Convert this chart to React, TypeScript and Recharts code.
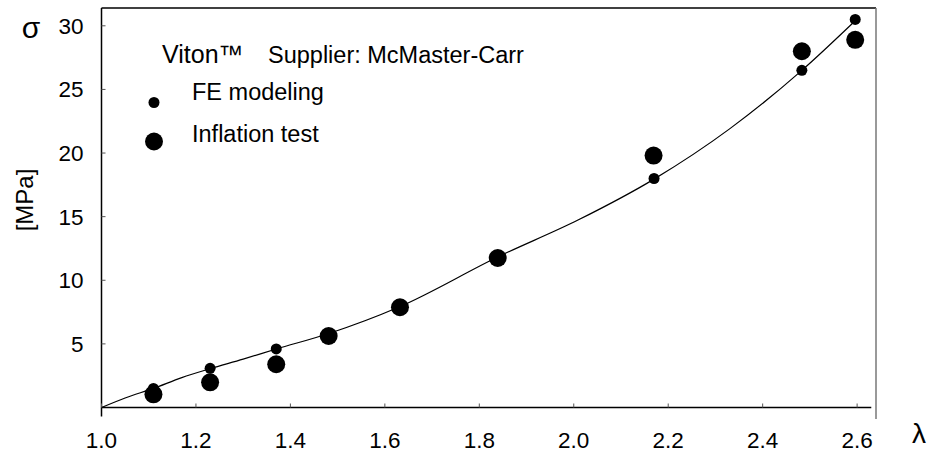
import React from "react";
import {
	ComposedChart,
	Line,
	ReferenceLine,
	Scatter,
	XAxis,
	YAxis,
} from "recharts";

// stretch ratio λ and stress σ [MPa]
const feLambda = [1.11, 1.23, 1.37, 1.48, 1.63, 1.84, 2.17, 2.483, 2.596];
const feSigma = [1.5, 3.08, 4.6, 5.75, 7.85, 11.8, 18.0, 26.5, 30.5];

const testLambda = [1.11, 1.23, 1.37, 1.481, 1.632, 1.839, 2.169, 2.483, 2.596];
const testSigma = [1.04, 1.98, 3.4, 5.62, 7.88, 11.75, 19.8, 28.0, 28.9];

const fitLambda = [1.0, 1.05, 1.11, 1.17, 1.23, 1.3, 1.37, 1.48, 1.63, 1.84, 2.01, 2.17, 2.33, 2.48, 2.596];
const fitSigma = [0, 0.75, 1.5, 2.35, 3.05, 3.8, 4.6, 5.8, 7.9, 11.85, 14.75, 17.95, 21.9, 26.4, 30.4];

const xTicks = [1.0, 1.2, 1.4, 1.6, 1.8, 2.0, 2.2, 2.4, 2.6];
const yTicks = [5, 10, 15, 20, 25, 30];

const X_MIN = 1.0;
const X_MAX = 2.64;
const Y_MAX = 31.4;

const FONT = '"Liberation Sans", Arial, sans-serif';

const toPoints = (xs: number[], ys: number[]) => xs.map((x, i) => ({ x, y: ys[i] }));

const feData = toPoints(feLambda, feSigma);
const testData = toPoints(testLambda, testSigma);
const fitData = toPoints(fitLambda, fitSigma);

const Dot = (r: number) => (props: any) => (
	<circle cx={props.cx} cy={props.cy} r={r} fill="#000" />
);

const YTick = (props: any) => {
	const { x, y, payload } = props;
	return (
		<g>
			<line x1={x} y1={y} x2={x + 4} y2={y} stroke="#555" />
			<text x={x - 18} y={y + 8} textAnchor="end" fontSize={22.5} fontFamily={FONT} fill="#000">
				{payload.value}
			</text>
		</g>
	);
};

const XTick = (props: any) => {
	const { x, y, payload } = props;
	return (
		<g>
			<line x1={x} y1={y} x2={x} y2={y - 4} stroke="#555" />
			<text x={x} y={y + 40} textAnchor="middle" fontSize={22.5} fontFamily={FONT} fill="#000">
				{Number(payload.value).toFixed(1)}
			</text>
		</g>
	);
};

export default function App() {
	return (
		<div style={{ position: "absolute", left: 0, top: 0, width: 927, height: 456, background: "#fff" }}>
			<ComposedChart
				width={927}
				height={456}
				margin={{ top: 8, right: 51, bottom: 8.5, left: 41.5 }}
			>
				<XAxis
					type="number"
					dataKey="x"
					domain={[X_MIN, X_MAX]}
					ticks={xTicks}
					axisLine={false}
					tickLine={false}
					tickSize={0}
					tickMargin={0}
					tick={<XTick />}
					height={40}
					allowDataOverflow
				/>
				<YAxis
					type="number"
					dataKey="y"
					domain={[0, Y_MAX]}
					ticks={yTicks}
					axisLine={false}
					tickLine={false}
					tickSize={0}
					tickMargin={0}
					tick={<YTick />}
					width={60}
					allowDataOverflow
				/>
				<ReferenceLine
					segment={[{ x: X_MIN, y: -0.7 }, { x: X_MIN, y: Y_MAX }]}
					stroke="#000"
					strokeWidth={1.5}
					ifOverflow="visible"
				/>
				<ReferenceLine
					segment={[{ x: X_MIN, y: 0 }, { x: 2.63, y: 0 }]}
					stroke="#000"
					strokeWidth={1.5}
					ifOverflow="visible"
				/>
				<ReferenceLine
					segment={[{ x: X_MIN, y: Y_MAX }, { x: X_MAX, y: Y_MAX }]}
					stroke="#000"
					strokeWidth={1.5}
					ifOverflow="visible"
				/>
				<ReferenceLine
					segment={[{ x: X_MAX, y: -0.9 }, { x: X_MAX, y: Y_MAX }]}
					stroke="#777"
					strokeWidth={1.5}
					ifOverflow="visible"
				/>
				<Line
					data={fitData}
					dataKey="y"
					type="monotone"
					stroke="#000"
					strokeWidth={1.2}
					dot={false}
					activeDot={false}
					isAnimationActive={false}
				/>
				<Scatter data={feData} dataKey="y" shape={Dot(5.5)} isAnimationActive={false} />
				<Scatter data={testData} dataKey="y" shape={Dot(9)} isAnimationActive={false} />
			</ComposedChart>
			<svg
				width={927}
				height={456}
				style={{ position: "absolute", left: 0, top: 0, pointerEvents: "none" }}
			>
				<text x={31} y={38} textAnchor="middle" fontSize={30} fontFamily={FONT}>σ</text>
				<text
					x={0}
					y={0}
					transform="translate(33 200) rotate(-90)"
					textAnchor="middle"
					fontSize={24}
					fontFamily={FONT}
				>
					[MPa]
				</text>
				<text x={919} y={443} textAnchor="middle" fontSize={28} fontFamily={FONT}>λ</text>
				<text x={162} y={63} fontSize={25} fontFamily={FONT}>Viton™</text>
				<text x={268} y={63} fontSize={23.5} fontFamily={FONT}>Supplier: McMaster-Carr</text>
				<circle cx={154} cy={102.5} r={5.5} fill="#000" />
				<text x={192} y={100} fontSize={23.5} fontFamily={FONT}>FE modeling</text>
				<circle cx={154} cy={141.5} r={9} fill="#000" />
				<text x={192} y={141.5} fontSize={23.5} fontFamily={FONT}>Inflation test</text>
			</svg>
		</div>
	);
}
